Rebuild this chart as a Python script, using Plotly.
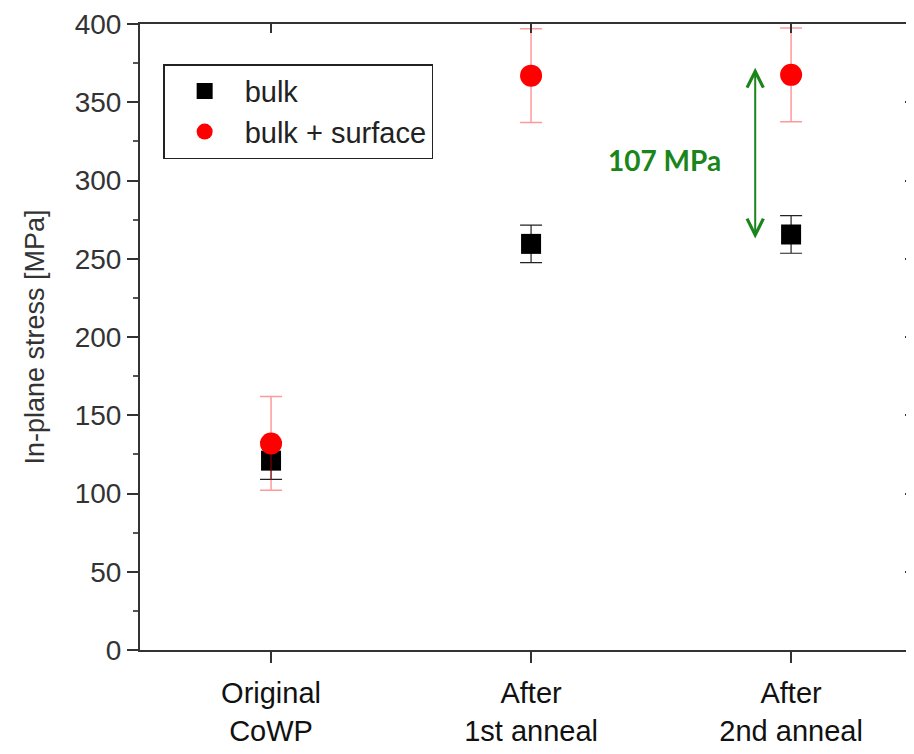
import plotly.graph_objects as go

categories = ["Original<br>CoWP", "After<br>1st anneal", "After<br>2nd anneal"]
bulk = [121, 259.5, 265.5]
bulk_err = [12, 12, 12]
surface = [132, 367, 367.5]
surface_err = [30, 30, 30]
y_ticks = [0, 50, 100, 150, 200, 250, 300, 350, 400]
diff_label = "107 MPa"
diff_low, diff_high = 262, 372

xidx = list(range(len(categories)))
XR = [-0.504, 2.465]
YR = [0, 400]
tickfont = dict(family="Liberation Sans, Arial, sans-serif", size=28, color="#333333")

fig = go.Figure()
fig.add_trace(go.Scatter(
    x=xidx, y=bulk, mode="markers", name="bulk",
    marker=dict(symbol="square", size=20, color="black"),
    error_y=dict(type="data", array=bulk_err, color="#222222", thickness=1.2, width=11),
))
fig.add_trace(go.Scatter(
    x=xidx, y=surface, mode="markers", name="bulk + surface",
    marker=dict(symbol="circle", size=22, color="#ff0000"),
    error_y=dict(type="data", array=surface_err, color="rgba(255,0,0,0.4)", thickness=1.5, width=11),
))

fig.add_annotation(
    x=1.862, y=diff_high, ax=1.862, ay=diff_low, xref="x", yref="y", axref="x", ayref="y",
    text="", showarrow=True, arrowhead=5, startarrowhead=5, arrowside="end+start",
    arrowsize=1.6, startarrowsize=1.6, arrowwidth=2, arrowcolor="#1a851a",
)
fig.add_annotation(
    x=1.515, y=313, xref="x", yref="y", text="<b>" + diff_label + "</b>", showarrow=False,
    font=dict(family="Lato, Carlito, sans-serif", size=28, color="#1a851a"),
)

fig.update_layout(
    width=904, height=746,
    margin=dict(l=132, r=0, t=16, b=104),
    plot_bgcolor="white", paper_bgcolor="white",
    showlegend=True,
    legend=dict(
        x=0.03, y=0.936, xanchor="left", yanchor="top",
        bordercolor="#222222", borderwidth=1.5, bgcolor="white",
        font=dict(family="Liberation Sans, Arial, sans-serif", size=29, color="#222222"),
        itemsizing="trace", itemwidth=70, tracegroupgap=0,
    ),
    xaxis=dict(
        range=XR, tickvals=xidx, ticktext=categories,
        ticks="outside", ticklen=11, tickwidth=1.5, tickcolor="#333333",
        ticklabelstandoff=5,
        showline=True, linecolor="#333333", linewidth=2, showgrid=False, zeroline=False,
        tickfont=dict(family="Liberation Sans, Arial, sans-serif", size=29, color="#111111"),
    ),
    xaxis2=dict(
        range=XR, tickvals=xidx, overlaying="x", side="top", anchor="y",
        ticks="inside", ticklen=9, tickwidth=1.5, tickcolor="#333333",
        showline=True, linecolor="#333333", linewidth=2, showgrid=False, zeroline=False,
        showticklabels=False,
    ),
    yaxis=dict(
        range=YR, tickvals=y_ticks,
        ticks="outside", ticklen=11, tickwidth=1.5, tickcolor="#333333",
        minor=dict(ticks="outside", ticklen=5, tickcolor="#555555", dtick=25, showgrid=False),
        showline=True, linecolor="#333333", linewidth=2, showgrid=False, zeroline=False,
        tickfont=tickfont,
        title=dict(text="In-plane stress [MPa]", standoff=22,
                   font=dict(family="Liberation Sans, Arial, sans-serif", size=27, color="#333333")),
    ),
    yaxis2=dict(
        range=YR, tickvals=y_ticks, overlaying="y", side="right", anchor="x",
        ticks="inside", ticklen=7, tickwidth=2, tickcolor="#333333",
        minor=dict(ticks="inside", ticklen=3, tickcolor="#aaaaaa", dtick=25, showgrid=False),
        showline=False, showgrid=False, zeroline=False, showticklabels=False,
    ),
)
fig.add_trace(go.Scatter(x=[None], y=[None], xaxis="x2", yaxis="y2", showlegend=False, hoverinfo="skip"))

fig.write_html("out.html")
